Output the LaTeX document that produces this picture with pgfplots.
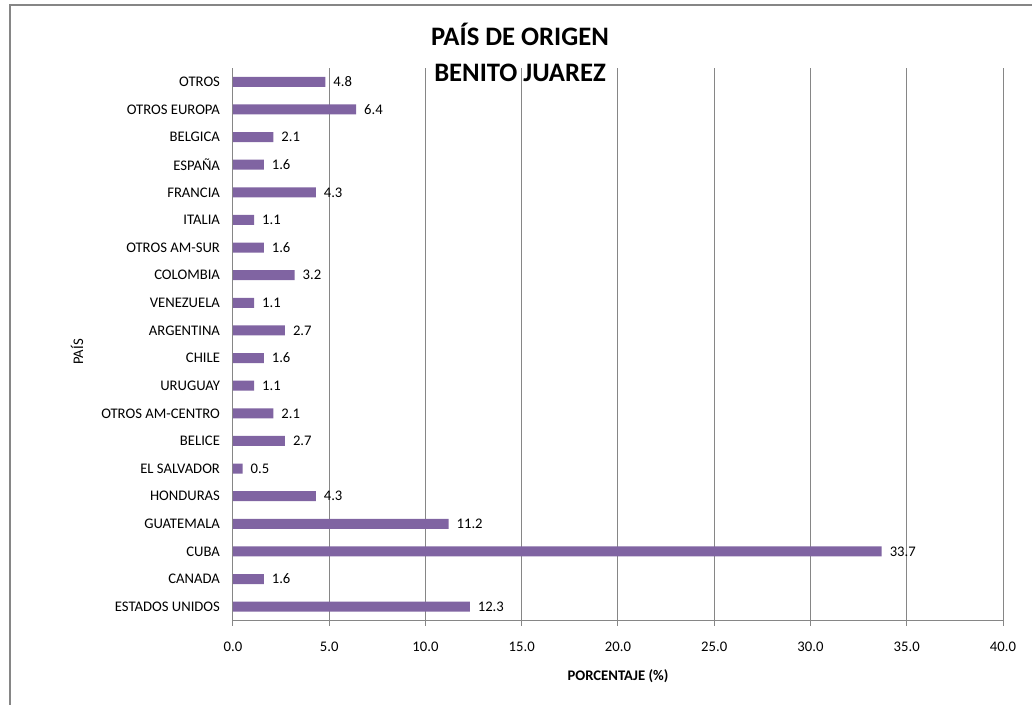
\documentclass[border=0pt]{standalone}
\usepackage{fontspec}
\setmainfont{Carlito}
\usepackage{pgfplots}
\pgfplotsset{compat=1.18}
\definecolor{barc}{HTML}{8064A2}
\definecolor{gridc}{HTML}{868686}
\begin{document}
\begin{tikzpicture}[x=1pt,y=1pt]
\useasboundingbox (-174.75,-62.625) rectangle (599.25,465.375);
\draw[gridc, line width=0.9pt] (-167.25,-80) -- (-167.25,461.6) -- (620,461.6);
\begin{axis}[
  at={(0,0)}, anchor=south west,
  scale only axis, width=577.5pt, height=414.375pt,
  xbar, bar width=7.5pt,
  xmin=0, xmax=40, ymin=-0.5, ymax=19.5,
  enlargelimits=false,
  xtick={0,5,...,40},
  ytick={0,...,19},
  yticklabels={ESTADOS UNIDOS, CANADA, CUBA, GUATEMALA, HONDURAS, EL SALVADOR, BELICE, OTROS AM-CENTRO, URUGUAY, CHILE, ARGENTINA, VENEZUELA, COLOMBIA, OTROS AM-SUR, ITALIA, FRANCIA, ESPAÑA, BELGICA, OTROS EUROPA, OTROS},
  axis x line=bottom, axis y line=left,
  axis line style={gridc, line width=0.75pt, -},
  xmajorgrids,
  major grid style={gridc, line width=0.75pt},
  tick align=outside, major tick length=3.75pt,
  xtick style={gridc, line width=0.75pt},
  ytick style={draw=none},
  /pgf/number format/assume math mode=true,
  xticklabel style={font=\fontsize{11}{13}\selectfont, yshift=-8.5pt, /pgf/number format/.cd, fixed, fixed zerofill, precision=1},
  yticklabel style={font=\fontsize{11}{13}\selectfont, xshift=-2.5pt},
  xlabel={PORCENTAJE (\%)},
  ylabel={PAÍS},
  every axis x label/.style={at={(axis description cs:0.5,-0.1005)}, anchor=center, font=\bfseries\fontsize{11}{13}\selectfont},
  every axis y label/.style={at={(axis description cs:-0.2026,0.486)}, anchor=center, rotate=90, font=\fontsize{11}{13}\selectfont},
  nodes near coords,
  point meta=x,
  nodes near coords style={font=\fontsize{11}{13}\selectfont, anchor=west, xshift=2.5pt, /pgf/number format/.cd, fixed, fixed zerofill, precision=1},
]
\addplot[fill=barc, draw=none] coordinates {
(12.3,0) (1.6,1) (33.7,2) (11.2,3) (4.3,4) (0.5,5) (2.7,6) (2.1,7) (1.1,8) (1.6,9)
(2.7,10) (1.1,11) (3.2,12) (1.6,13) (1.1,14) (4.3,15) (1.6,16) (2.1,17) (6.4,18) (4.8,19)
};
\end{axis}
\node[font=\bfseries\fontsize{20}{24}\selectfont, anchor=base] at (215.25,430.9) {PAÍS DE ORIGEN};
\node[font=\bfseries\fontsize{20}{24}\selectfont, anchor=base] at (215.25,404.6) {BENITO JUAREZ};
\end{tikzpicture}
\end{document}
